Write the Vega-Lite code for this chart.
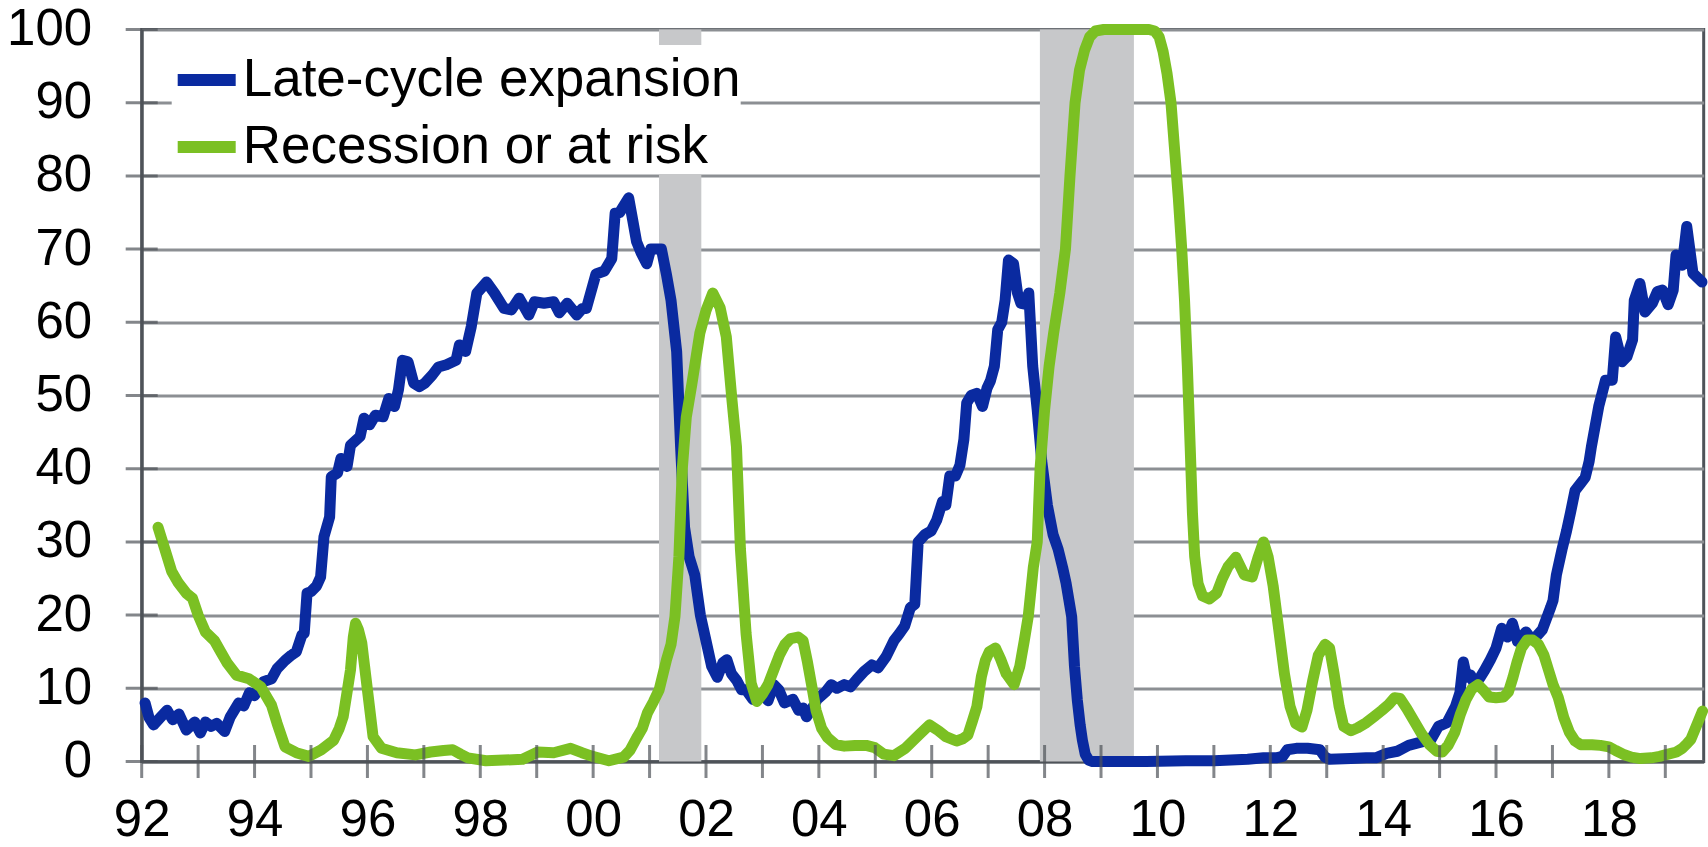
{
  "$schema": "https://vega.github.io/schema/vega-lite/v6.json",
  "width": 1562,
  "height": 732,
  "autosize": {"type": "none"},
  "padding": {"left": 141.7, "top": 29.5, "right": 4, "bottom": 85},
  "background": "white",
  "config": {
    "font": "Liberation Sans",
    "view": {"stroke": "#4e5359", "strokeWidth": 3},
    "legend": {
      "orient": "none",
      "legendX": 30,
      "legendY": 15.5,
      "padding": 0,
      "fillColor": "white",
      "strokeColor": null,
      "symbolType": "stroke",
      "symbolSize": 3364,
      "symbolStrokeWidth": 12,
      "labelFont": "Liberation Sans",
      "labelFontSize": 53,
      "labelColor": "#000000",
      "labelOffset": 1,
      "labelLimit": 0,
      "rowPadding": 5,
      "title": null
    }
  },
  "datasets": {
    "late": [
      {"year":1992.06,"value":8.0},{"year":1992.13,"value":6},{"year":1992.21,"value":5.0},{"year":1992.33,"value":6},{"year":1992.45,"value":7.0},{"year":1992.55,"value":5.7},{"year":1992.66,"value":6.5},{"year":1992.79,"value":4.3},{"year":1992.94,"value":5.4},{"year":1993.04,"value":3.9},{"year":1993.13,"value":5.4},{"year":1993.23,"value":4.8},{"year":1993.33,"value":5.2},{"year":1993.47,"value":4.1},{"year":1993.57,"value":6.1},{"year":1993.72,"value":8},{"year":1993.81,"value":7.6},{"year":1993.91,"value":9.4},{"year":1994.0,"value":9},{"year":1994.16,"value":10.9},{"year":1994.3,"value":11.3},{"year":1994.4,"value":12.7},{"year":1994.54,"value":13.8},{"year":1994.65,"value":14.5},{"year":1994.74,"value":15},{"year":1994.84,"value":17.3},{"year":1994.88,"value":17.5},{"year":1994.93,"value":23},{"year":1995.0,"value":23.2},{"year":1995.1,"value":24},{"year":1995.17,"value":25.2},{"year":1995.23,"value":30.7},{"year":1995.33,"value":33.4},{"year":1995.36,"value":38.9},{"year":1995.47,"value":39.4},{"year":1995.53,"value":41.4},{"year":1995.64,"value":40.3},{"year":1995.7,"value":43.2},{"year":1995.87,"value":44.4},{"year":1995.94,"value":46.9},{"year":1996.04,"value":46},{"year":1996.14,"value":47.3},{"year":1996.28,"value":47.1},{"year":1996.38,"value":49.6},{"year":1996.48,"value":48.5},{"year":1996.55,"value":50.8},{"year":1996.62,"value":54.8},{"year":1996.72,"value":54.6},{"year":1996.82,"value":51.7},{"year":1996.92,"value":51.2},{"year":1997.02,"value":51.7},{"year":1997.15,"value":52.8},{"year":1997.26,"value":53.9},{"year":1997.4,"value":54.2},{"year":1997.57,"value":54.8},{"year":1997.63,"value":56.9},{"year":1997.74,"value":56},{"year":1997.84,"value":59.4},{"year":1997.94,"value":64},{"year":1998.11,"value":65.5},{"year":1998.25,"value":64},{"year":1998.42,"value":61.9},{"year":1998.55,"value":61.7},{"year":1998.69,"value":63.3},{"year":1998.86,"value":61},{"year":1998.96,"value":62.8},{"year":1999.13,"value":62.6},{"year":1999.3,"value":62.8},{"year":1999.4,"value":61.3},{"year":1999.54,"value":62.6},{"year":1999.71,"value":61},{"year":1999.81,"value":61.9},{"year":1999.88,"value":61.9},{"year":2000.05,"value":66.6},{"year":2000.2,"value":67},{"year":2000.33,"value":68.7},{"year":2000.39,"value":74.9},{"year":2000.47,"value":75},{"year":2000.55,"value":76},{"year":2000.63,"value":77},{"year":2000.7,"value":74},{"year":2000.77,"value":71},{"year":2000.85,"value":69.5},{"year":2000.95,"value":68},{"year":2001.02,"value":70},{"year":2001.12,"value":70},{"year":2001.21,"value":70},{"year":2001.3,"value":66.5},{"year":2001.38,"value":63},{"year":2001.48,"value":56},{"year":2001.55,"value":43},{"year":2001.62,"value":32},{"year":2001.7,"value":28},{"year":2001.8,"value":25.5},{"year":2001.9,"value":20},{"year":2002.0,"value":16.5},{"year":2002.1,"value":13},{"year":2002.2,"value":11.5},{"year":2002.3,"value":13.5},{"year":2002.37,"value":13.9},{"year":2002.45,"value":12},{"year":2002.55,"value":11},{"year":2002.63,"value":9.8},{"year":2002.71,"value":9.8},{"year":2002.83,"value":8.5},{"year":2002.92,"value":8.8},{"year":2003.0,"value":9.2},{"year":2003.1,"value":8.3},{"year":2003.2,"value":10.5},{"year":2003.29,"value":9.8},{"year":2003.39,"value":8},{"year":2003.54,"value":8.5},{"year":2003.64,"value":7},{"year":2003.72,"value":7.3},{"year":2003.78,"value":6.1},{"year":2003.9,"value":7.5},{"year":2003.97,"value":8.5},{"year":2004.12,"value":9.5},{"year":2004.22,"value":10.5},{"year":2004.32,"value":10},{"year":2004.45,"value":10.5},{"year":2004.56,"value":10.2},{"year":2004.67,"value":11.2},{"year":2004.8,"value":12.3},{"year":2004.94,"value":13.2},{"year":2005.05,"value":12.8},{"year":2005.19,"value":14.3},{"year":2005.33,"value":16.5},{"year":2005.42,"value":17.4},{"year":2005.52,"value":18.5},{"year":2005.62,"value":21},{"year":2005.7,"value":21.5},{"year":2005.76,"value":30},{"year":2005.88,"value":31},{"year":2005.99,"value":31.5},{"year":2006.09,"value":33},{"year":2006.19,"value":35.5},{"year":2006.25,"value":35},{"year":2006.32,"value":39},{"year":2006.42,"value":39},{"year":2006.5,"value":40.5},{"year":2006.57,"value":44},{"year":2006.62,"value":49},{"year":2006.7,"value":50},{"year":2006.8,"value":50.3},{"year":2006.9,"value":48.5},{"year":2006.98,"value":51},{"year":2007.04,"value":52},{"year":2007.11,"value":54},{"year":2007.17,"value":59},{"year":2007.24,"value":60},{"year":2007.3,"value":63},{"year":2007.36,"value":68.5},{"year":2007.45,"value":68},{"year":2007.52,"value":64},{"year":2007.58,"value":62.6},{"year":2007.65,"value":62.5},{"year":2007.72,"value":64},{"year":2007.79,"value":54},{"year":2007.87,"value":48},{"year":2007.95,"value":41},{"year":2008.05,"value":35},{"year":2008.15,"value":31},{"year":2008.24,"value":29},{"year":2008.32,"value":26.5},{"year":2008.38,"value":24.4},{"year":2008.48,"value":19.8},{"year":2008.53,"value":13},{"year":2008.58,"value":8.4},{"year":2008.63,"value":5},{"year":2008.67,"value":2.9},{"year":2008.72,"value":1},{"year":2008.78,"value":0.2},{"year":2008.85,"value":0},{"year":2009.8,"value":0},{"year":2010.5,"value":0.1},{"year":2011.0,"value":0.1},{"year":2011.6,"value":0.3},{"year":2011.88,"value":0.5},{"year":2012.1,"value":0.5},{"year":2012.22,"value":0.7},{"year":2012.3,"value":1.6},{"year":2012.46,"value":1.8},{"year":2012.66,"value":1.8},{"year":2012.88,"value":1.6},{"year":2012.97,"value":0.6},{"year":2013.05,"value":0.3},{"year":2013.43,"value":0.4},{"year":2013.7,"value":0.5},{"year":2013.87,"value":0.5},{"year":2014.06,"value":1.1},{"year":2014.25,"value":1.4},{"year":2014.35,"value":1.8},{"year":2014.45,"value":2.2},{"year":2014.6,"value":2.5},{"year":2014.75,"value":2.8},{"year":2014.84,"value":2.9},{"year":2014.98,"value":4.8},{"year":2015.13,"value":5.3},{"year":2015.28,"value":7.5},{"year":2015.36,"value":9.4},{"year":2015.42,"value":13.6},{"year":2015.48,"value":11.5},{"year":2015.55,"value":11.8},{"year":2015.62,"value":10.5},{"year":2015.72,"value":11.5},{"year":2015.8,"value":12.5},{"year":2015.9,"value":13.9},{"year":2016.0,"value":15.5},{"year":2016.1,"value":18.2},{"year":2016.2,"value":17},{"year":2016.29,"value":18.9},{"year":2016.38,"value":16.4},{"year":2016.53,"value":17.7},{"year":2016.6,"value":17},{"year":2016.67,"value":16.7},{"year":2016.82,"value":18},{"year":2016.97,"value":21.1},{"year":2017.01,"value":22},{"year":2017.07,"value":25.5},{"year":2017.17,"value":29},{"year":2017.25,"value":31.5},{"year":2017.32,"value":34},{"year":2017.4,"value":37},{"year":2017.5,"value":38},{"year":2017.58,"value":38.8},{"year":2017.65,"value":41},{"year":2017.69,"value":43},{"year":2017.82,"value":48.5},{"year":2017.94,"value":52.1},{"year":2018.06,"value":52.1},{"year":2018.12,"value":58},{"year":2018.23,"value":54.6},{"year":2018.32,"value":55.3},{"year":2018.42,"value":57.6},{"year":2018.45,"value":63},{"year":2018.55,"value":65.3},{"year":2018.64,"value":61.4},{"year":2018.77,"value":62.6},{"year":2018.86,"value":64.2},{"year":2018.95,"value":64.4},{"year":2019.05,"value":62.4},{"year":2019.14,"value":64.4},{"year":2019.19,"value":69.2},{"year":2019.3,"value":67.8},{"year":2019.38,"value":73.1},{"year":2019.49,"value":66.7},{"year":2019.65,"value":65.5}
    ],
    "risk": [
      {"year":1992.29,"value":32},{"year":1992.41,"value":29},{"year":1992.53,"value":26},{"year":1992.65,"value":24.4},{"year":1992.79,"value":23},{"year":1992.9,"value":22.3},{"year":1993.0,"value":20},{"year":1993.13,"value":17.7},{"year":1993.29,"value":16.5},{"year":1993.4,"value":15},{"year":1993.52,"value":13.4},{"year":1993.68,"value":11.8},{"year":1993.9,"value":11.3},{"year":1994.11,"value":10.2},{"year":1994.3,"value":7.7},{"year":1994.4,"value":5.2},{"year":1994.54,"value":2.0},{"year":1994.74,"value":1.2},{"year":1994.96,"value":0.7},{"year":1995.18,"value":1.6},{"year":1995.4,"value":2.9},{"year":1995.5,"value":4.5},{"year":1995.57,"value":6.1},{"year":1995.64,"value":9.5},{"year":1995.7,"value":12.5},{"year":1995.75,"value":17},{"year":1995.79,"value":18.9},{"year":1995.84,"value":18},{"year":1995.9,"value":16.2},{"year":1995.95,"value":13},{"year":1996.0,"value":9.8},{"year":1996.1,"value":3.4},{"year":1996.25,"value":1.8},{"year":1996.52,"value":1.2},{"year":1996.85,"value":0.9},{"year":1997.12,"value":1.3},{"year":1997.35,"value":1.5},{"year":1997.51,"value":1.6},{"year":1997.65,"value":1.0},{"year":1997.78,"value":0.5},{"year":1998.1,"value":0.1},{"year":1998.75,"value":0.3},{"year":1999.02,"value":1.3},{"year":1999.3,"value":1.2},{"year":1999.6,"value":1.8},{"year":1999.8,"value":1.2},{"year":1999.99,"value":0.7},{"year":2000.28,"value":0.1},{"year":2000.54,"value":0.6},{"year":2000.65,"value":1.5},{"year":2000.77,"value":3.2},{"year":2000.87,"value":4.5},{"year":2000.96,"value":6.6},{"year":2001.07,"value":8.2},{"year":2001.17,"value":9.8},{"year":2001.3,"value":13.9},{"year":2001.38,"value":16},{"year":2001.45,"value":19.8},{"year":2001.52,"value":28},{"year":2001.58,"value":40},{"year":2001.65,"value":47},{"year":2001.75,"value":51.6},{"year":2001.89,"value":58.5},{"year":2002.0,"value":61.6},{"year":2002.12,"value":64},{"year":2002.25,"value":62},{"year":2002.36,"value":58},{"year":2002.46,"value":49.4},{"year":2002.54,"value":43},{"year":2002.61,"value":29},{"year":2002.71,"value":17.5},{"year":2002.8,"value":10.7},{"year":2002.9,"value":8.2},{"year":2003.0,"value":9.2},{"year":2003.1,"value":10.5},{"year":2003.2,"value":12.5},{"year":2003.3,"value":14.5},{"year":2003.4,"value":16},{"year":2003.5,"value":16.8},{"year":2003.63,"value":17},{"year":2003.72,"value":16.5},{"year":2003.8,"value":13.5},{"year":2003.87,"value":10.5},{"year":2003.95,"value":7},{"year":2004.05,"value":4.5},{"year":2004.15,"value":3.3},{"year":2004.3,"value":2.3},{"year":2004.45,"value":2.1},{"year":2004.64,"value":2.2},{"year":2004.84,"value":2.2},{"year":2004.99,"value":1.9},{"year":2005.15,"value":1.0},{"year":2005.33,"value":0.8},{"year":2005.53,"value":1.8},{"year":2005.77,"value":3.6},{"year":2005.96,"value":5.0},{"year":2006.12,"value":4.2},{"year":2006.25,"value":3.4},{"year":2006.44,"value":2.8},{"year":2006.55,"value":3.1},{"year":2006.64,"value":3.6},{"year":2006.72,"value":5.5},{"year":2006.8,"value":7.5},{"year":2006.88,"value":11.6},{"year":2006.95,"value":13.8},{"year":2007.02,"value":15},{"year":2007.13,"value":15.5},{"year":2007.22,"value":14},{"year":2007.32,"value":12},{"year":2007.46,"value":10.5},{"year":2007.56,"value":13},{"year":2007.64,"value":16.5},{"year":2007.71,"value":19.8},{"year":2007.8,"value":26.5},{"year":2007.87,"value":30},{"year":2007.92,"value":40},{"year":2008.0,"value":48},{"year":2008.08,"value":54},{"year":2008.16,"value":58.5},{"year":2008.27,"value":64},{"year":2008.37,"value":70},{"year":2008.45,"value":80},{"year":2008.54,"value":90},{"year":2008.62,"value":94.5},{"year":2008.71,"value":97.2},{"year":2008.8,"value":99},{"year":2008.9,"value":99.8},{"year":2009.05,"value":100},{"year":2009.5,"value":100},{"year":2009.85,"value":100},{"year":2009.95,"value":99.8},{"year":2010.03,"value":99},{"year":2010.1,"value":97},{"year":2010.17,"value":94},{"year":2010.24,"value":90},{"year":2010.3,"value":84},{"year":2010.37,"value":77},{"year":2010.43,"value":70},{"year":2010.48,"value":63},{"year":2010.53,"value":54},{"year":2010.58,"value":43},{"year":2010.62,"value":34},{"year":2010.66,"value":28},{"year":2010.72,"value":24.3},{"year":2010.8,"value":22.6},{"year":2010.92,"value":22.2},{"year":2011.05,"value":23},{"year":2011.15,"value":25},{"year":2011.25,"value":26.6},{"year":2011.39,"value":27.9},{"year":2011.54,"value":25.5},{"year":2011.68,"value":25.2},{"year":2011.78,"value":27.8},{"year":2011.88,"value":30},{"year":2011.96,"value":28},{"year":2012.05,"value":24},{"year":2012.15,"value":18},{"year":2012.25,"value":12},{"year":2012.35,"value":7.5},{"year":2012.45,"value":5.2},{"year":2012.56,"value":4.7},{"year":2012.65,"value":7},{"year":2012.75,"value":11},{"year":2012.85,"value":14.5},{"year":2012.97,"value":16},{"year":2013.05,"value":15.5},{"year":2013.13,"value":12},{"year":2013.22,"value":7.5},{"year":2013.3,"value":4.8},{"year":2013.43,"value":4.2},{"year":2013.55,"value":4.6},{"year":2013.7,"value":5.3},{"year":2013.85,"value":6.2},{"year":2013.98,"value":7},{"year":2014.1,"value":7.8},{"year":2014.2,"value":8.7},{"year":2014.3,"value":8.6},{"year":2014.42,"value":7.2},{"year":2014.55,"value":5.5},{"year":2014.68,"value":3.8},{"year":2014.82,"value":2.3},{"year":2014.95,"value":1.4},{"year":2015.05,"value":1.3},{"year":2015.15,"value":2.2},{"year":2015.27,"value":4},{"year":2015.37,"value":6.5},{"year":2015.47,"value":8.5},{"year":2015.57,"value":9.9},{"year":2015.68,"value":10.5},{"year":2015.77,"value":9.8},{"year":2015.88,"value":8.8},{"year":2016.0,"value":8.7},{"year":2016.13,"value":8.8},{"year":2016.22,"value":9.5},{"year":2016.3,"value":11.5},{"year":2016.37,"value":13.5},{"year":2016.45,"value":15.5},{"year":2016.55,"value":16.6},{"year":2016.65,"value":16.6},{"year":2016.75,"value":16},{"year":2016.85,"value":14.5},{"year":2016.93,"value":12.5},{"year":2017.01,"value":10.5},{"year":2017.1,"value":8.8},{"year":2017.2,"value":6},{"year":2017.3,"value":4},{"year":2017.4,"value":2.8},{"year":2017.5,"value":2.3},{"year":2017.7,"value":2.3},{"year":2017.85,"value":2.2},{"year":2018.0,"value":2.0},{"year":2018.12,"value":1.5},{"year":2018.25,"value":1.0},{"year":2018.4,"value":0.6},{"year":2018.56,"value":0.4},{"year":2018.75,"value":0.5},{"year":2018.9,"value":0.7},{"year":2019.05,"value":1.0},{"year":2019.2,"value":1.3},{"year":2019.3,"value":1.8},{"year":2019.38,"value":2.4},{"year":2019.45,"value":3},{"year":2019.52,"value":4.3},{"year":2019.6,"value":5.8},{"year":2019.66,"value":6.9}
    ],
    "recessions": [
      {"start": 2001.167, "end": 2001.917},
      {"start": 2007.917, "end": 2009.583}
    ],
    "xticks": [
      {"year":1992},{"year":1993},{"year":1994},{"year":1995},{"year":1996},{"year":1997},{"year":1998},{"year":1999},{"year":2000},{"year":2001},{"year":2002},{"year":2003},{"year":2004},{"year":2005},{"year":2006},{"year":2007},{"year":2008},{"year":2009},{"year":2010},{"year":2011},{"year":2012},{"year":2013},{"year":2014},{"year":2015},{"year":2016},{"year":2017},{"year":2018},{"year":2019}
    ],
    "yticks": [
      {"value":0},{"value":10},{"value":20},{"value":30},{"value":40},{"value":50},{"value":60},{"value":70},{"value":80},{"value":90},{"value":100}
    ]
  },
  "layer": [
    {
      "data": {"name": "recessions"},
      "mark": {"type": "rect", "color": "#c7c8ca"},
      "encoding": {
        "x": {
          "field": "start", "type": "quantitative",
          "scale": {"domain": [1992, 2019.68], "nice": false, "zero": false},
          "axis": {
            "values": [1992,1994,1996,1998,2000,2002,2004,2006,2008,2010,2012,2014,2016,2018],
            "labelExpr": "substring(toString(datum.value), 2, 4)",
            "title": null,
            "grid": false,
            "ticks": false,
            "tickSize": 0,
            "domainColor": "#4e5359",
            "domainWidth": 3,
            "labelFont": "Liberation Sans",
            "labelFontSize": 51,
            "labelColor": "#000000",
            "labelPadding": 34,
            "labelFlush": false,
            "labelOverlap": false,
            "labelBound": false
          }
        },
        "x2": {"field": "end"}
      }
    },
    {
      "data": {"name": "late"},
      "mark": {"type": "line", "strokeWidth": 11, "strokeJoin": "round", "strokeCap": "round"},
      "encoding": {
        "x": {"field": "year", "type": "quantitative"},
        "y": {
          "field": "value", "type": "quantitative",
          "scale": {"domain": [0, 100], "nice": false},
          "axis": {
            "values": [0,10,20,30,40,50,60,70,80,90,100],
            "title": null,
            "grid": true,
            "gridColor": "#8c8f93",
            "gridWidth": 3,
            "ticks": false,
            "tickSize": 0,
            "domainColor": "#4e5359",
            "domainWidth": 3,
            "labelFont": "Liberation Sans",
            "labelFontSize": 51,
            "labelColor": "#000000",
            "labelPadding": 50,
            "labelOverlap": false,
            "labelBound": false,
            "labelFlush": false
          }
        },
        "color": {
          "datum": "Late-cycle expansion",
          "type": "nominal",
          "scale": {"domain": ["Late-cycle expansion", "Recession or at risk"], "range": ["#0a2aa0", "#7bc023"]}
        }
      }
    },
    {
      "data": {"name": "risk"},
      "mark": {"type": "line", "strokeWidth": 11, "strokeJoin": "round", "strokeCap": "round"},
      "encoding": {
        "x": {"field": "year", "type": "quantitative"},
        "y": {"field": "value", "type": "quantitative"},
        "color": {"datum": "Recession or at risk", "type": "nominal"}
      }
    },
    {
      "data": {"name": "xticks"},
      "mark": {"type": "tick", "orient": "vertical", "size": 33, "thickness": 3, "color": "#4e5359"},
      "encoding": {
        "x": {"field": "year", "type": "quantitative"},
        "y": {"datum": 0, "type": "quantitative"}
      }
    },
    {
      "data": {"name": "yticks"},
      "mark": {"type": "tick", "orient": "horizontal", "size": 32, "thickness": 3, "color": "#4e5359"},
      "encoding": {
        "x": {"datum": 1992, "type": "quantitative"},
        "y": {"field": "value", "type": "quantitative"}
      }
    }
  ]
}
